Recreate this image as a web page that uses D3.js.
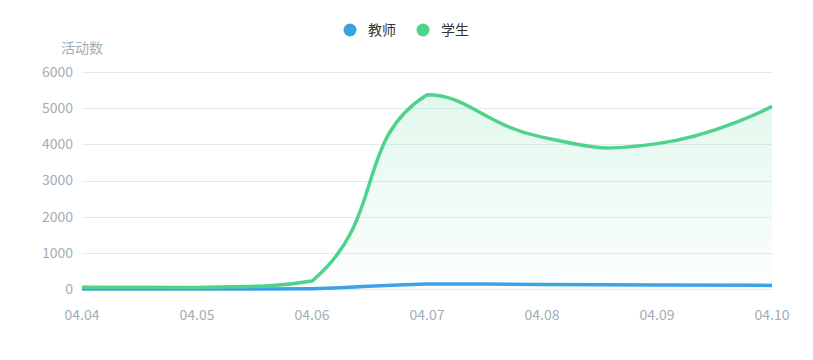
<!DOCTYPE html>
<html>
<head>
<meta charset="utf-8">
<script src="https://cdn.jsdelivr.net/npm/d3@7"></script>
<style>
  body { margin: 0; background: #fff; }
  svg { display: block; font-family: "Microsoft YaHei", "Noto Sans CJK SC", sans-serif; }
</style>
</head>
<body>
<svg width="813" height="360"></svg>
<script>
var days = ["04.04", "04.05", "04.06", "04.07", "04.08", "04.09", "04.10"];
var teacher = [0, 0, 5, 140, 125, 110, 100];
var student = [50, 40, 220, 5370, 4200, 4020, 5050];
var yTicks = [0, 1000, 2000, 3000, 4000, 5000, 6000];
var seriesNames = ["教师", "学生"];
var colors = ["#3ca1e6", "#4fd38c"];

var svg = d3.select("svg"),
    margin = { top: 72, right: 41, bottom: 71, left: 82 },
    width = +svg.attr("width") - margin.left - margin.right,
    height = +svg.attr("height") - margin.top - margin.bottom,
    g = svg.append("g").attr("transform", "translate(" + margin.left + "," + margin.top + ")");

var x = d3.scalePoint().domain(days).range([0, width]);
var y = d3.scaleLinear().domain([0, 6000]).range([height, 0]);

// smooth bezier like echarts line smooth (0.5) with bbox constraint
function curveSmooth(context) {
  var pts, line, s = 0.5;
  function draw(first) {
    var n = pts.length;
    if (!n) return;
    var minX = d3.min(pts, function(p) { return p[0]; }), maxX = d3.max(pts, function(p) { return p[0]; });
    var minY = d3.min(pts, function(p) { return p[1]; }), maxY = d3.max(pts, function(p) { return p[1]; });
    function clamp(c) {
      return [Math.max(minX, Math.min(maxX, c[0])), Math.max(minY, Math.min(maxY, c[1]))];
    }
    if (first) context.lineTo(pts[0][0], pts[0][1]);
    else context.moveTo(pts[0][0], pts[0][1]);
    var cp0 = pts[0].slice();
    for (var i = 1; i < n; i++) {
      var p = pts[i], prev = pts[i - 1], next = pts[i + 1];
      var cp1, nextCp0;
      if (!next) {
        cp1 = p.slice();
        nextCp0 = p.slice();
      } else {
        var vx = next[0] - prev[0], vy = next[1] - prev[1];
        var d0 = Math.hypot(p[0] - prev[0], p[1] - prev[1]);
        var d1 = Math.hypot(next[0] - p[0], next[1] - p[1]);
        var r = d0 + d1 ? d1 / (d0 + d1) : 0.5;
        cp1 = [p[0] - vx * s * (1 - r), p[1] - vy * s * (1 - r)];
        nextCp0 = [p[0] + vx * s * r, p[1] + vy * s * r];
      }
      var a = clamp(cp0), b = clamp(cp1);
      context.bezierCurveTo(a[0], a[1], b[0], b[1], p[0], p[1]);
      cp0 = nextCp0;
    }
  }
  return {
    areaStart: function() { line = 0; },
    areaEnd: function() { line = NaN; },
    lineStart: function() { pts = []; },
    point: function(px, py) { pts.push([+px, +py]); },
    lineEnd: function() {
      draw(line === 1);
      if (line === 1) context.closePath();
      if (line === 0 || line === 1) line = 1 - line;
    }
  };
}

// gradient for student area
var defs = svg.append("defs");
var grad = defs.append("linearGradient")
    .attr("id", "stuFill")
    .attr("gradientUnits", "userSpaceOnUse")
    .attr("x1", 0).attr("y1", y(5400))
    .attr("x2", 0).attr("y2", y(0));
grad.append("stop").attr("offset", "0%").attr("stop-color", colors[1]).attr("stop-opacity", 0.16);
grad.append("stop").attr("offset", "100%").attr("stop-color", colors[1]).attr("stop-opacity", 0.02);

// grid lines
g.append("g")
  .selectAll("line")
  .data(yTicks)
  .enter()
    .append("line")
    .attr("x1", 0)
    .attr("x2", width)
    .attr("y1", function(d) { return Math.round(y(d)) + 0.5; })
    .attr("y2", function(d) { return Math.round(y(d)) + 0.5; })
    .attr("stroke", "#e3ebf1")
    .attr("stroke-width", 1);

// y labels
g.append("g")
  .selectAll("text")
  .data(yTicks)
  .enter()
    .append("text")
    .attr("x", -9)
    .attr("y", function(d) { return y(d); })
    .attr("dy", "0.35em")
    .attr("text-anchor", "end")
    .attr("fill", "#a3adb5")
    .attr("font-size", 14)
    .text(function(d) { return d; });

// y axis name
g.append("text")
  .attr("x", 0)
  .attr("y", -19)
  .attr("text-anchor", "middle")
  .attr("fill", "#a3adb5")
  .attr("font-size", 14)
  .text("活动数");

// x labels
g.append("g")
  .selectAll("text")
  .data(days)
  .enter()
    .append("text")
    .attr("x", function(d) { return x(d); })
    .attr("y", height + 26)
    .attr("dy", "0.35em")
    .attr("text-anchor", "middle")
    .attr("fill", "#a3adb5")
    .attr("font-size", 14)
    .text(function(d) { return d; });

var line = d3.line()
    .x(function(d, i) { return x(days[i]); })
    .y(function(d) { return y(d); })
    .curve(curveSmooth);

var area = d3.area()
    .x(function(d, i) { return x(days[i]); })
    .y0(y(0))
    .y1(function(d) { return y(d); })
    .curve(curveSmooth);

g.append("path")
  .datum(student)
  .attr("d", area)
  .attr("fill", "url(#stuFill)");

[teacher, student].forEach(function(s, i) {
  g.append("path")
    .datum(s)
    .attr("d", line)
    .attr("fill", "none")
    .attr("stroke", colors[i])
    .attr("stroke-width", 3.5)
    .attr("stroke-linejoin", "round");
});

// legend
var legendX = [350, 423];
var leg = svg.append("g").selectAll("g")
  .data(seriesNames)
  .enter()
    .append("g")
    .attr("transform", function(d, i) { return "translate(" + legendX[i] + ",30)"; });

leg.append("circle")
  .attr("r", 6.5)
  .attr("fill", function(d, i) { return colors[i]; });

leg.append("text")
  .attr("x", 18)
  .attr("dy", "0.35em")
  .attr("fill", "#333")
  .attr("font-size", 14)
  .text(function(d) { return d; });
</script>
</body>
</html>
